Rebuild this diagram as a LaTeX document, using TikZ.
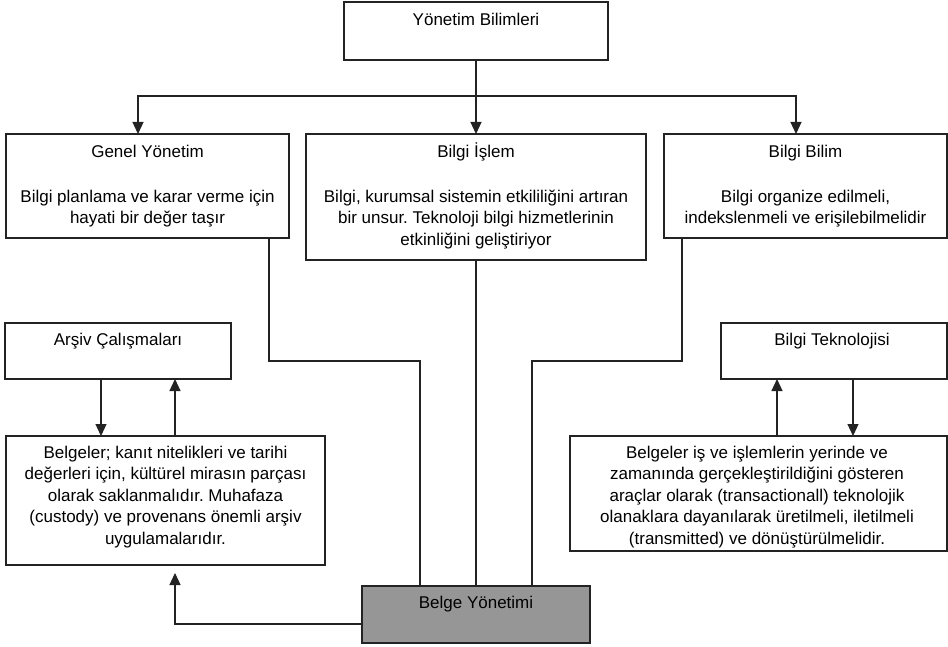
\documentclass[tikz,border=0pt]{standalone}
\usepackage{fontspec}
\setmainfont{Liberation Sans}
\usetikzlibrary{arrows.meta}
\definecolor{ln}{RGB}{35,35,35}
\definecolor{bmgray}{RGB}{150,150,150}
\newcommand{\fst}{\rule{0pt}{16pt}}
\frenchspacing
\begin{document}
\begin{tikzpicture}[x=1pt,y=-1pt,
  box/.style={draw=ln, line width=1.2pt, rectangle, inner sep=0pt, outer sep=0pt, anchor=north west},
  txt/.style={anchor=north, inner sep=0pt, align=center, font=\fontsize{17}{21.5}\selectfont, text=black},
  conn/.style={draw=ln, line width=1.2pt},
  arr/.style={conn, -{Triangle[length=12pt,width=11pt]}}]
\useasboundingbox (0,0) rectangle (948,647);
\fill[white] (0,0) rectangle (948,647);

% boxes
\node[box, minimum width=264pt, minimum height=58pt] (yb) at (344,2) {};
\node[box, minimum width=283pt, minimum height=104pt] (gy) at (6,134) {};
\node[box, minimum width=340pt, minimum height=126pt] (bi) at (306,134) {};
\node[box, minimum width=283pt, minimum height=104pt] (bb) at (664,134) {};
\node[box, minimum width=226pt, minimum height=56pt] (ac) at (5,323) {};
\node[box, minimum width=226pt, minimum height=56pt] (bt) at (721,323) {};
\node[box, minimum width=319pt, minimum height=129pt] (lb) at (6,436) {};
\node[box, minimum width=377pt, minimum height=115pt] (rb) at (570,436) {};
\node[box, fill=bmgray, minimum width=228pt, minimum height=57pt] (bm) at (362,586) {};

% texts
\node[txt] (ybt) at (476,9) {\fst Yönetim Bilimleri};
\node[txt] (gyt) at (147.5,141) {\fst Genel Yönetim\\[23.5pt]Bilgi planlama ve karar verme için\\hayati bir değer taşır};
\node[txt] (bit) at (476,141) {\fst Bilgi İşlem\\[23.5pt]Bilgi, kurumsal sistemin etkililiğini artıran\\bir unsur. Teknoloji bilgi hizmetlerinin\\etkinliğini geliştiriyor};
\node[txt] (bbt) at (805.5,141) {\fst Bilgi Bilim\\[23.5pt]Bilgi organize edilmeli,\\indekslenmeli ve erişilebilmelidir};
\node[txt] (act) at (118,329) {\fst Arşiv Çalışmaları};
\node[txt] (btt) at (832,329) {\fst Bilgi Teknolojisi};
\node[txt] (lbt) at (165.5,442) {\fst Belgeler; kanıt nitelikleri ve tarihi\\değerleri için, kültürel mirasın parçası\\olarak saklanmalıdır. Muhafaza\\(custody) ve provenans önemli arşiv\\uygulamalarıdır.};
\node[txt] (rbt) at (757,442) {\fst Belgeler iş ve işlemlerin yerinde ve\\zamanında gerçekleştirildiğini gösteren\\araçlar olarak (transactionall) teknolojik\\olanaklara dayanılarak üretilmeli, iletilmeli\\(transmitted) ve dönüştürülmelidir.};
\node[txt] (bmt) at (476,592) {\fst Belge Yönetimi};

% top fan-out
\coordinate (j) at (476,96);
\draw[conn] (yb.south) -- (j);
\draw[arr] (j) -- (j |- bi.north);
\path (gy.north) ++(-9.5,0) coordinate (gyN);
\path (bb.north) ++(-9.5,0) coordinate (bbN);
\draw[arr] (j) -| (gyN);
\draw[arr] (j) -| (bbN);

% into Belge Yönetimi
\path (gy.south east) ++(-20,0) coordinate (gyD);
\path (bm.north) ++(-56,0) coordinate (bmA);
\draw[conn] (gyD) -- ++(0,123) -| (bmA);
\draw[conn] (bi.south) -- (bi.south |- bm.north);
\path (bb.south west) ++(18,0) coordinate (bbD);
\path (bm.north) ++(56,0) coordinate (bmB);
\draw[conn] (bbD) -- ++(0,123) -| (bmB);

% Arşiv <-> Belgeler (left)
\path (ac.south west) ++(96,0) coordinate (acD);
\draw[arr] (acD) -- (acD |- lb.north);
\path (lb.north west) ++(169,0) coordinate (lbU);
\draw[arr] (lbU) -- (lbU |- ac.south);

% Bilgi Teknolojisi <-> Belgeler (right)
\path (rb.north west) ++(207,0) coordinate (rbU);
\draw[arr] (rbU) -- (rbU |- bt.south);
\path (bt.south west) ++(132,0) coordinate (btD);
\draw[arr] (btD) -- (btD |- rb.north);

% Belge Yönetimi -> left Belgeler
\path (bm.west) ++(0,9.5) coordinate (bmL);
\coordinate (tipL) at (175,573);
\draw[arr] (bmL) -| (tipL);
\end{tikzpicture}
\end{document}
